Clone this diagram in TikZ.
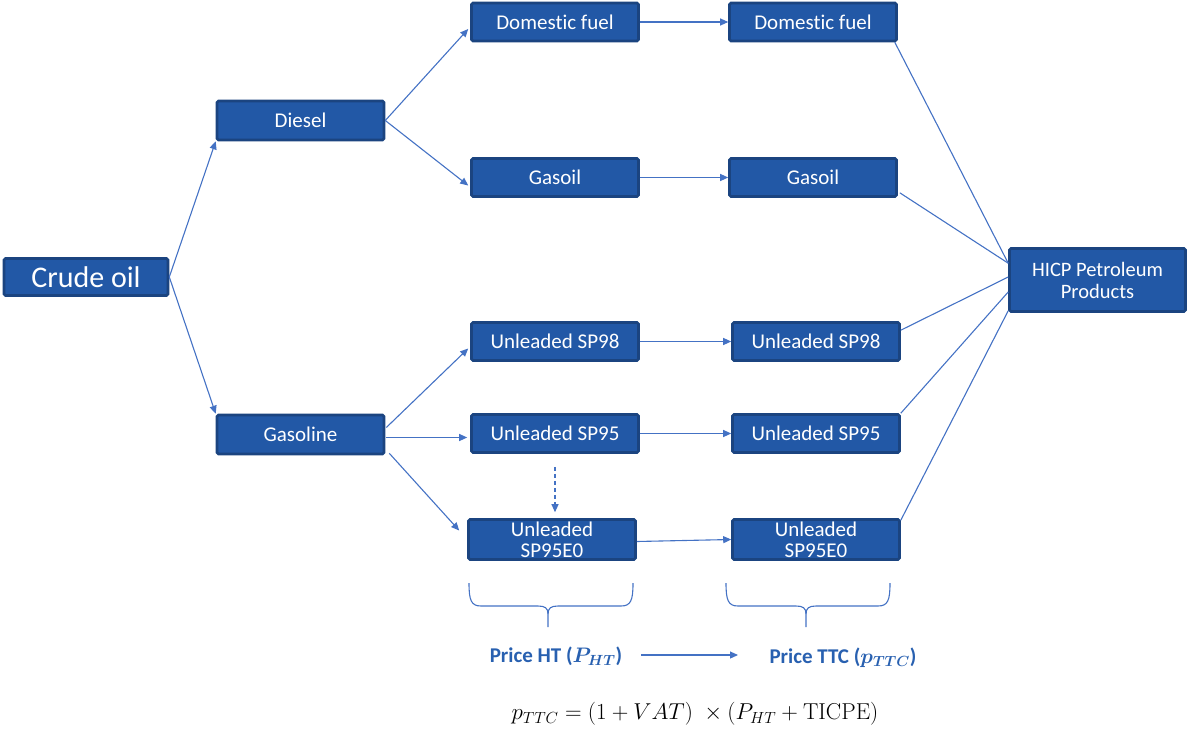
\RequirePackage{fix-cm}
\documentclass[tikz,border=0pt]{standalone}
\usepackage[no-math]{fontspec}
\setmainfont{Carlito}[Ligatures=NoCommon]
\usetikzlibrary{arrows.meta,calc}
\definecolor{boxfill}{RGB}{34,88,166}
\definecolor{boxborder}{RGB}{27,68,128}
\definecolor{linecol}{RGB}{68,114,196}
\definecolor{pricecol}{RGB}{40,96,176}
\newcommand\mybrace[3]{%
  \draw[bracestyle] (#1,583) .. controls (#1,600) and ({#1+2},606) .. ({#1+12},606)
     -- ({#3-10},606) .. controls ({#3-3},606) and (#3,608) .. (#3,614) -- (#3,627);
  \draw[bracestyle] (#2,583) .. controls (#2,600) and ({#2-2},606) .. ({#2-12},606)
     -- ({#3+10},606) .. controls ({#3+3},606) and (#3,608) .. (#3,614);
}
\begin{document}
\begin{tikzpicture}[x=1pt,y=-1pt,
  box/.style={draw=boxborder, fill=boxfill, line width=2.6pt, rounded corners=1.5pt,
    text=white, font=\fontsize{21}{22}\selectfont, minimum width=167pt,
    minimum height=38pt, inner sep=0pt, align=center},
  conn/.style={draw=linecol, line width=1.1pt, -{Triangle[length=8pt,width=7pt]}},
  dconn/.style={conn, dash pattern=on 4pt off 3pt},
  plainline/.style={draw=linecol, line width=1.1pt},
  bracestyle/.style={draw=linecol, line width=1.1pt},
  price/.style={text=pricecol, font=\fontsize{21}{24}\selectfont\bfseries\boldmath, inner sep=0pt}]
\path[use as bounding box] (0,0) rectangle (1190,731);

\node[box, minimum width=164pt, minimum height=37pt, font=\fontsize{30}{32}\selectfont] (crude) at (86,277) {Crude oil};
\node[box, minimum height=39pt] (diesel) at (300.5,120.5) {Diesel};
\node[box, minimum height=39pt] (gasoline) at (300.5,434.5) {Gasoline};

\node[box] (df1) at (555,22) {Domestic fuel};
\node[box] (gs1) at (555,177.5) {Gasoil};
\node[box] (s98a) at (555,341.5) {Unleaded SP98};
\node[box] (s95a) at (555,433.5) {Unleaded SP95};
\node[box, minimum height=40pt] (e0a) at (552,539.5) {Unleaded\\[-1pt]SP95E0};

\node[box] (df2) at (813,22) {Domestic fuel};
\node[box] (gs2) at (813,177.5) {Gasoil};
\node[box] (s98b) at (816,341.5) {Unleaded SP98};
\node[box] (s95b) at (816,433.5) {Unleaded SP95};
\node[box, minimum height=40pt] (e0b) at (816,539.5) {Unleaded\\[-1pt]SP95E0};

\node[box, minimum width=176pt, minimum height=63pt, font=\fontsize{20.5}{22}\selectfont] (hicp) at (1097.5,280) {HICP Petroleum\\Products};

% crude to diesel/gasoline
\draw[conn] (crude.east) -- (diesel.south west);
\draw[conn] (crude.east) -- (gasoline.north west);
% diesel branches
\draw[conn] (diesel.east) -- ($(df1.west)+(-2,7)$);
\draw[conn] (diesel.east) -- ($(gs1.west)+(-2,8)$);
% gasoline branches
\draw[conn] ($(gasoline.east)+(1,-7)$) -- ($(s98a.west)+(-2,7)$);
\draw[conn] ($(gasoline.east)+(1,3)$) -- ($(s95a.west)+(-3,4)$);
\draw[conn] ($(gasoline.south east)+(4,-2)$) -- ($(e0a.west)+(-8,-9)$);
% dashed
\draw[dconn] ($(s95a.south)+(0,13)$) -- ($(e0a.north)+(3,-6)$);
% horizontal
\draw[conn] (df1.east) -- (df2.west);
\draw[conn] (gs1.east) -- (gs2.west);
\draw[conn] (s98a.east) -- (s98b.west);
\draw[conn] (s95a.east) -- (s95b.west);
\draw[conn] ($(e0a.east)+(0,2)$) -- (e0b.west);
% to HICP
\draw[plainline] ($(df2.south east)+(-3,0)$) -- ($(hicp.north west)+(0,16)$);
\draw[plainline] ($(gs2.south east)+(2,-5)$) -- ($(hicp.north west)+(0,16)$);
\draw[plainline] ($(s98b.north east)+(0,9)$) -- ($(hicp.west)+(0,-3)$);
\draw[plainline] ($(s95b.north east)+(0,0)$) -- ($(hicp.west)+(0,12)$);
\draw[plainline] ($(e0b.north east)+(0,2)$) -- ($(hicp.south west)+(0,-2)$);

% braces
\mybrace{469}{633}{548}
\mybrace{726}{890}{806}

% price labels
\node[price] (pht) at (556,656) {Price HT ($P_{HT}$)};
\node[price] (pttc) at (843,658) {Price TTC ($p_{TTC}$)};
\coordinate (pa) at (641,655);
\coordinate (pb) at (738,655);
\draw[conn] (pa) -- (pb);

\node[inner sep=0pt, font=\fontsize{23}{26}\selectfont] (formula) at (695,714)
  {$p_{TTC} = (1 + VAT)\;\times (P_{HT} + \mathrm{TICPE})$};
\end{tikzpicture}
\end{document}
